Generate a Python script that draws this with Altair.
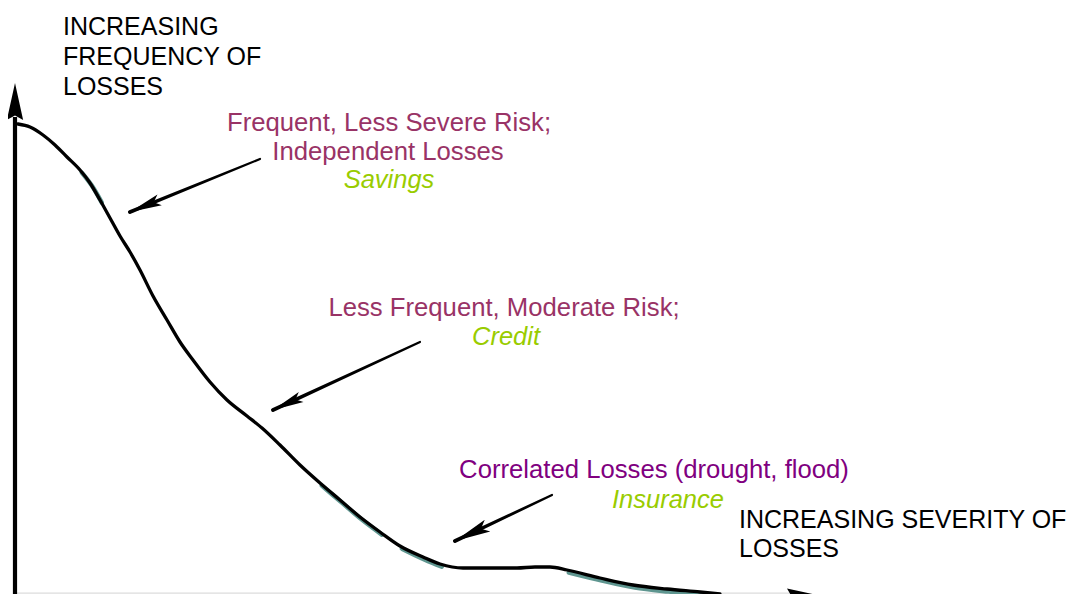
import math
import altair as alt
import pandas as pd

# Units: severity = pixels right of the vertical axis, frequency = pixels above the baseline
curve_s = [3, 15, 28, 40, 52, 65, 75, 85, 95, 105, 115, 125, 138, 152, 165, 178, 195, 212,
           232, 247, 265, 285, 305, 325, 345, 365, 385, 408, 425, 448, 475, 502, 520, 535,
           552, 585, 618, 652, 685, 705]
curve_f = [468, 465, 457, 447, 435, 422, 409, 392, 374, 356, 340, 322, 296, 272, 250, 232,
           210, 192, 176, 164, 147, 127, 109, 92, 75, 60, 46, 35, 28, 24, 24, 24, 25, 25,
           22, 14, 7, 3, 0, -2]

# shaded (teal) stretches of the hand-drawn curve
teal_ranges = [(65, 90), (305, 368), (385, 430), (540, 705)]

# arrows: tail -> tip
arrow_id = ["savings", "credit", "insurance"]
arrow_tail_s = [245, 405, 537]
arrow_tail_f = [433, 250, 97]
arrow_tip_s = [115, 258, 440]
arrow_tip_f = [380, 182, 51]
arrow_head_len = [32, 31, 36]

# vertical axis
axis_s = [0, 0]
axis_f = [-20, 475]
axis_tip_s = [0]
axis_tip_f = [509]

# horizontal axis (mostly below the picture edge)
xaxis_s = [0, 785]
xaxis_f = [-1.2, -1.2]
xaxis_tip_s = [802]
xaxis_tip_f = [-3]

# labels
lab_text = ["Frequent, Less Severe Risk;", "Independent Losses", "Savings",
            "Less Frequent, Moderate Risk;", "Credit",
            "Correlated Losses (drought, flood)", "Insurance"]
lab_s = [374, 373, 374, 489, 491, 639, 653]
lab_f = [461, 432, 404, 276, 247, 114, 84]
lab_color = ["#993366", "#993366", "#99cc00", "#993366", "#99cc00", "#800080", "#99cc00"]
lab_style = ["normal", "normal", "italic", "normal", "italic", "normal", "italic"]

title_text = ["INCREASING", "FREQUENCY OF", "LOSSES", "INCREASING SEVERITY OF", "LOSSES"]
title_s = [48, 48, 48, 724, 724]
title_f = [557, 527, 497, 64, 35]

XS = alt.Scale(domain=[-7, 1055], nice=False, zero=False)
YS = alt.Scale(domain=[-2, 584], nice=False, zero=False)


def xy(xf="s", yf="f"):
    return dict(x=alt.X(f"{xf}:Q", scale=XS, axis=None),
                y=alt.Y(f"{yf}:Q", scale=YS, axis=None))


curve = pd.DataFrame({"s": curve_s, "f": curve_f, "o": range(len(curve_s))})

teal_rows = []
for k, (a, b) in enumerate(teal_ranges):
    for i, (s, f) in enumerate(zip(curve_s, curve_f)):
        if a <= s <= b:
            teal_rows.append({"s": s + 1.8, "f": f - 2.6, "seg": k, "o": i})
teal = pd.DataFrame(teal_rows)

teal_layer = alt.Chart(teal).mark_line(
    color="#5f9690", strokeWidth=4.5, interpolate="monotone", strokeCap="round"
).encode(**xy(), detail="seg:N", order="o:Q")

curve_layer = alt.Chart(curve).mark_line(
    color="black", strokeWidth=3.3, interpolate="monotone", strokeCap="round"
).encode(**xy(), order="o:Q")

# arrow shafts (tapering trail)
shaft_rows = []
head_rows = []
for i in range(len(arrow_id)):
    shaft_rows.append({"id": arrow_id[i], "s": arrow_tail_s[i], "f": arrow_tail_f[i], "w": 2.2, "o": 0})
    shaft_rows.append({"id": arrow_id[i], "s": arrow_tip_s[i], "f": arrow_tip_f[i], "w": 4.0, "o": 1})
    ds = arrow_tip_s[i] - arrow_tail_s[i]
    df = arrow_tip_f[i] - arrow_tail_f[i]
    ang = math.degrees(math.atan2(ds, df)) % 360
    head_rows.append({"s": arrow_tip_s[i], "f": arrow_tip_f[i], "ang": ang,
                      "size": arrow_head_len[i] ** 2})
shafts = pd.DataFrame(shaft_rows)
heads = pd.DataFrame(head_rows)

shaft_layer = alt.Chart(shafts).mark_trail(color="black").encode(
    **xy(), detail="id:N", order="o:Q", size=alt.Size("w:Q", scale=None, legend=None)
)

HEAD = "M0,0 L0.36,2 L0,1.6 L-0.36,2 Z"
head_layer = alt.Chart(heads).mark_point(
    shape=HEAD, filled=True, color="black", opacity=1, strokeWidth=0
).encode(**xy(), angle=alt.Angle("ang:Q", scale=None),
         size=alt.Size("size:Q", scale=None, legend=None))

# vertical axis with arrowhead
axis_df = pd.DataFrame({"s": axis_s, "f": axis_f})
axis_layer = alt.Chart(axis_df).mark_line(color="black", strokeWidth=4.2).encode(**xy())
axis_head = pd.DataFrame({"s": axis_tip_s, "f": axis_tip_f})
AXHEAD = "M0,0 L0.44,2 L0,1.75 L-0.44,2 Z"
axis_head_layer = alt.Chart(axis_head).mark_point(
    shape=AXHEAD, filled=True, color="black", opacity=1, strokeWidth=0, size=37 ** 2
).encode(**xy())

# horizontal axis edge and arrowhead fragment
xaxis_df = pd.DataFrame({"s": xaxis_s, "f": xaxis_f})
xaxis_layer = alt.Chart(xaxis_df).mark_line(color="#dcdcdc", strokeWidth=1.2).encode(**xy())
xaxis_head = pd.DataFrame({"s": xaxis_tip_s, "f": xaxis_tip_f, "ang": [90]})
xaxis_head_layer = alt.Chart(xaxis_head).mark_point(
    shape=AXHEAD, filled=True, color="black", opacity=1, strokeWidth=0, size=30 ** 2
).encode(**xy(), angle=alt.Angle("ang:Q", scale=None))

# labels
labs = pd.DataFrame({"t": lab_text, "s": lab_s, "f": lab_f, "c": lab_color, "st": lab_style})
lab_normal = alt.Chart(labs[labs.st == "normal"]).mark_text(
    align="center", baseline="alphabetic", font="Liberation Sans", fontSize=25.7
).encode(**xy(), text="t:N", color=alt.Color("c:N", scale=None))
lab_italic = alt.Chart(labs[labs.st == "italic"]).mark_text(
    align="center", baseline="alphabetic", font="Liberation Sans", fontSize=25.5, fontStyle="italic"
).encode(**xy(), text="t:N", color=alt.Color("c:N", scale=None))

titles = pd.DataFrame({"t": title_text, "s": title_s, "f": title_f})
title_layer = alt.Chart(titles).mark_text(
    align="left", baseline="alphabetic", font="Liberation Sans", fontSize=25, color="black"
).encode(**xy(), text="t:N")

chart = alt.layer(
    xaxis_layer, xaxis_head_layer, teal_layer, curve_layer, axis_layer, axis_head_layer,
    shaft_layer, head_layer, lab_normal, lab_italic, title_layer
).properties(
    width=1062, height=586, padding=0, autosize=alt.AutoSizeParams(type="none"),
    background="white"
).configure_view(stroke=None)

chart.save("out.html", embed_options={"renderer": "svg", "actions": False})
